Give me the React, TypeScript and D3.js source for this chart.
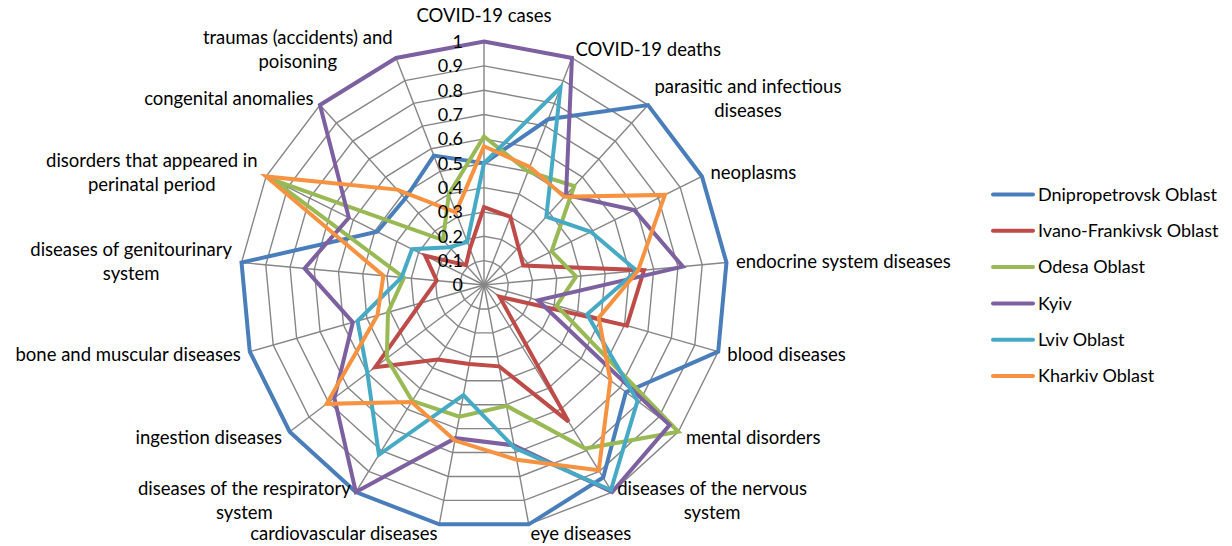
import { useEffect, useRef } from 'react'
import * as d3 from 'd3'

// axis categories (\n marks the wrapped line)
const categories = [
  'COVID-19 cases',
  'COVID-19 deaths',
  'parasitic and infectious\ndiseases',
  'neoplasms',
  'endocrine system diseases',
  'blood diseases',
  'mental disorders',
  'diseases of the nervous\nsystem',
  'eye diseases',
  'cardiovascular diseases',
  'diseases of the respiratory\nsystem',
  'ingestion diseases',
  'bone and muscular diseases',
  'diseases of genitourinary\nsystem',
  'disorders that appeared in\nperinatal period',
  'congenital anomalies',
  'traumas (accidents) and\npoisoning',
]

const dnipropetrovsk = [0.5, 0.73, 1, 1, 1, 1, 0.73, 0.93, 1, 1, 1, 1, 1, 1, 0.49, 0.48, 0.57]
const ivanoFrankivsk = [0.32, 0.3, 0.21, 0.18, 0.66, 0.61, 0.08, 0.66, 0.34, 0.33, 0.36, 0.56, 0.27, 0.195, 0.27, 0.11, 0.16]
const odesa = [0.61, 0.5, 0.55, 0.31, 0.38, 0.31, 1, 0.79, 0.505, 0.55, 0.56, 0.5, 0.41, 0.33, 0.97, 0.25, 0.4]
const kyiv = [1, 1, 0.5, 0.69, 0.82, 0.23, 0.955, 1, 0.67, 0.64, 1, 0.77, 0.56, 0.74, 0.62, 1, 1]
const lviv = [0.5, 0.87, 0.38, 0.49, 0.63, 0.44, 0.79, 0.99, 0.68, 0.46, 0.82, 0.6, 0.54, 0.34, 0.33, 0.21, 0.19]
const kharkiv = [0.57, 0.52, 0.49, 0.83, 0.635, 0.49, 0.65, 0.895, 0.73, 0.65, 0.565, 0.81, 0.455, 0.415, 1, 0.53, 0.32]

const seriesNames = ['Dnipropetrovsk Oblast', 'Ivano-Frankivsk Oblast', 'Odesa Oblast', 'Kyiv', 'Lviv Oblast', 'Kharkiv Oblast']
const seriesValues = [dnipropetrovsk, ivanoFrankivsk, odesa, kyiv, lviv, kharkiv]
const seriesColors = ['#4a7ebb', '#be4b48', '#98b954', '#7d60a0', '#46aac5', '#f69240']

const tickValues = [0, 0.1, 0.2, 0.3, 0.4, 0.5, 0.6, 0.7, 0.8, 0.9, 1]
const tickLabels = ['0', '0.1', '0.2', '0.3', '0.4', '0.5', '0.6', '0.7', '0.8', '0.9', '1']

const App = () => {
  const ref = useRef<SVGSVGElement>(null)

  useEffect(() => {
    const width = 1232
    const height = 546
    const cx = 484
    const cy = 285
    const R = 243.5
    const font = 'Lato, "Open Sans", sans-serif'
    const labelSize = 18.5

    const svg = d3.select(ref.current)
    svg.selectAll('*').remove()
    svg.attr('width', width).attr('height', height)

    const r = d3.scaleLinear().domain([0, 1]).range([0, R])
    const angle = d3.scaleLinear().domain([0, categories.length]).range([0, 2 * Math.PI])

    const g = svg.append('g').attr('transform', `translate(${cx},${cy})`)

    // grid rings
    const ring = d3.lineRadial<number>()
      .angle((_, i) => angle(i))
      .radius(d => r(d))
      .curve(d3.curveLinearClosed)
    tickValues.slice(1).forEach(t => {
      g.append('path')
        .attr('d', ring(categories.map(() => t)))
        .attr('fill', 'none')
        .attr('stroke', '#868686')
        .attr('stroke-width', 1.4)
    })

    // spokes
    g.selectAll('line.spoke')
      .data(categories)
      .enter().append('line')
      .attr('class', 'spoke')
      .attr('x1', 0).attr('y1', 0)
      .attr('x2', (_, i) => r(1) * Math.sin(angle(i)))
      .attr('y2', (_, i) => -r(1) * Math.cos(angle(i)))
      .attr('stroke', '#868686')
      .attr('stroke-width', 1.4)

    // series
    const line = d3.lineRadial<number>()
      .angle((_, i) => angle(i))
      .radius(d => r(d))
      .curve(d3.curveLinearClosed)
    seriesValues.forEach((vals, s) => {
      g.append('path')
        .attr('d', line(vals))
        .attr('fill', 'none')
        .attr('stroke', seriesColors[s])
        .attr('stroke-width', 4)
        .attr('stroke-linejoin', 'miter')
    })

    // value labels along the first axis
    g.selectAll('text.tick')
      .data(tickValues)
      .enter().append('text')
      .attr('class', 'tick')
      .attr('x', -21)
      .attr('y', d => -r(d))
      .attr('dy', '0.35em')
      .attr('text-anchor', 'end')
      .attr('font-family', font)
      .attr('font-size', 18)
      .attr('fill', '#000')
      .text((_, i) => tickLabels[i])

    // category labels
    const labelR = R + 9.5
    categories.forEach((c, i) => {
      const a = angle(i)
      const sin = Math.sin(a)
      const lines = c.split('\n')
      const x = labelR * sin
      let y = -labelR * Math.cos(a)
      if (i === 0) y = -269
      const t = g.append('text')
        .attr('font-family', font)
        .attr('font-size', labelSize)
        .attr('fill', '#000')
      // measure block width so wrapped lines stay centred in their block
      const tmp = g.append('text').attr('font-family', font).attr('font-size', labelSize)
      const widths = lines.map(l => {
        tmp.text(l)
        return (tmp.node() as SVGTextElement).getComputedTextLength()
      })
      tmp.remove()
      const bw = Math.max(...widths)
      let centerX = x
      if (i !== 0) centerX = sin > 0 ? x + bw / 2 : x - bw / 2
      lines.forEach((l, j) => {
        t.append('tspan')
          .attr('x', centerX)
          .attr('y', y + (j - (lines.length - 1) / 2) * 24)
          .attr('dy', '0.35em')
          .attr('text-anchor', 'middle')
          .text(l)
      })
    })

    // legend
    const legend = svg.append('g')
    seriesNames.forEach((n, i) => {
      const ly = 194.5 + i * 36.3
      legend.append('line')
        .attr('x1', 993).attr('x2', 1033)
        .attr('y1', ly).attr('y2', ly)
        .attr('stroke', seriesColors[i])
        .attr('stroke-width', 4)
        .attr('stroke-linecap', 'round')
      legend.append('text')
        .attr('x', 1038)
        .attr('y', ly)
        .attr('dy', '0.35em')
        .attr('font-family', font)
        .attr('font-size', 18)
        .attr('fill', '#000')
        .text(n)
    })
  }, [])

  return (
    <svg ref={ref} style={{ position: 'absolute', left: 0, top: 0, background: '#fff' }} />
  )
}

export default App
